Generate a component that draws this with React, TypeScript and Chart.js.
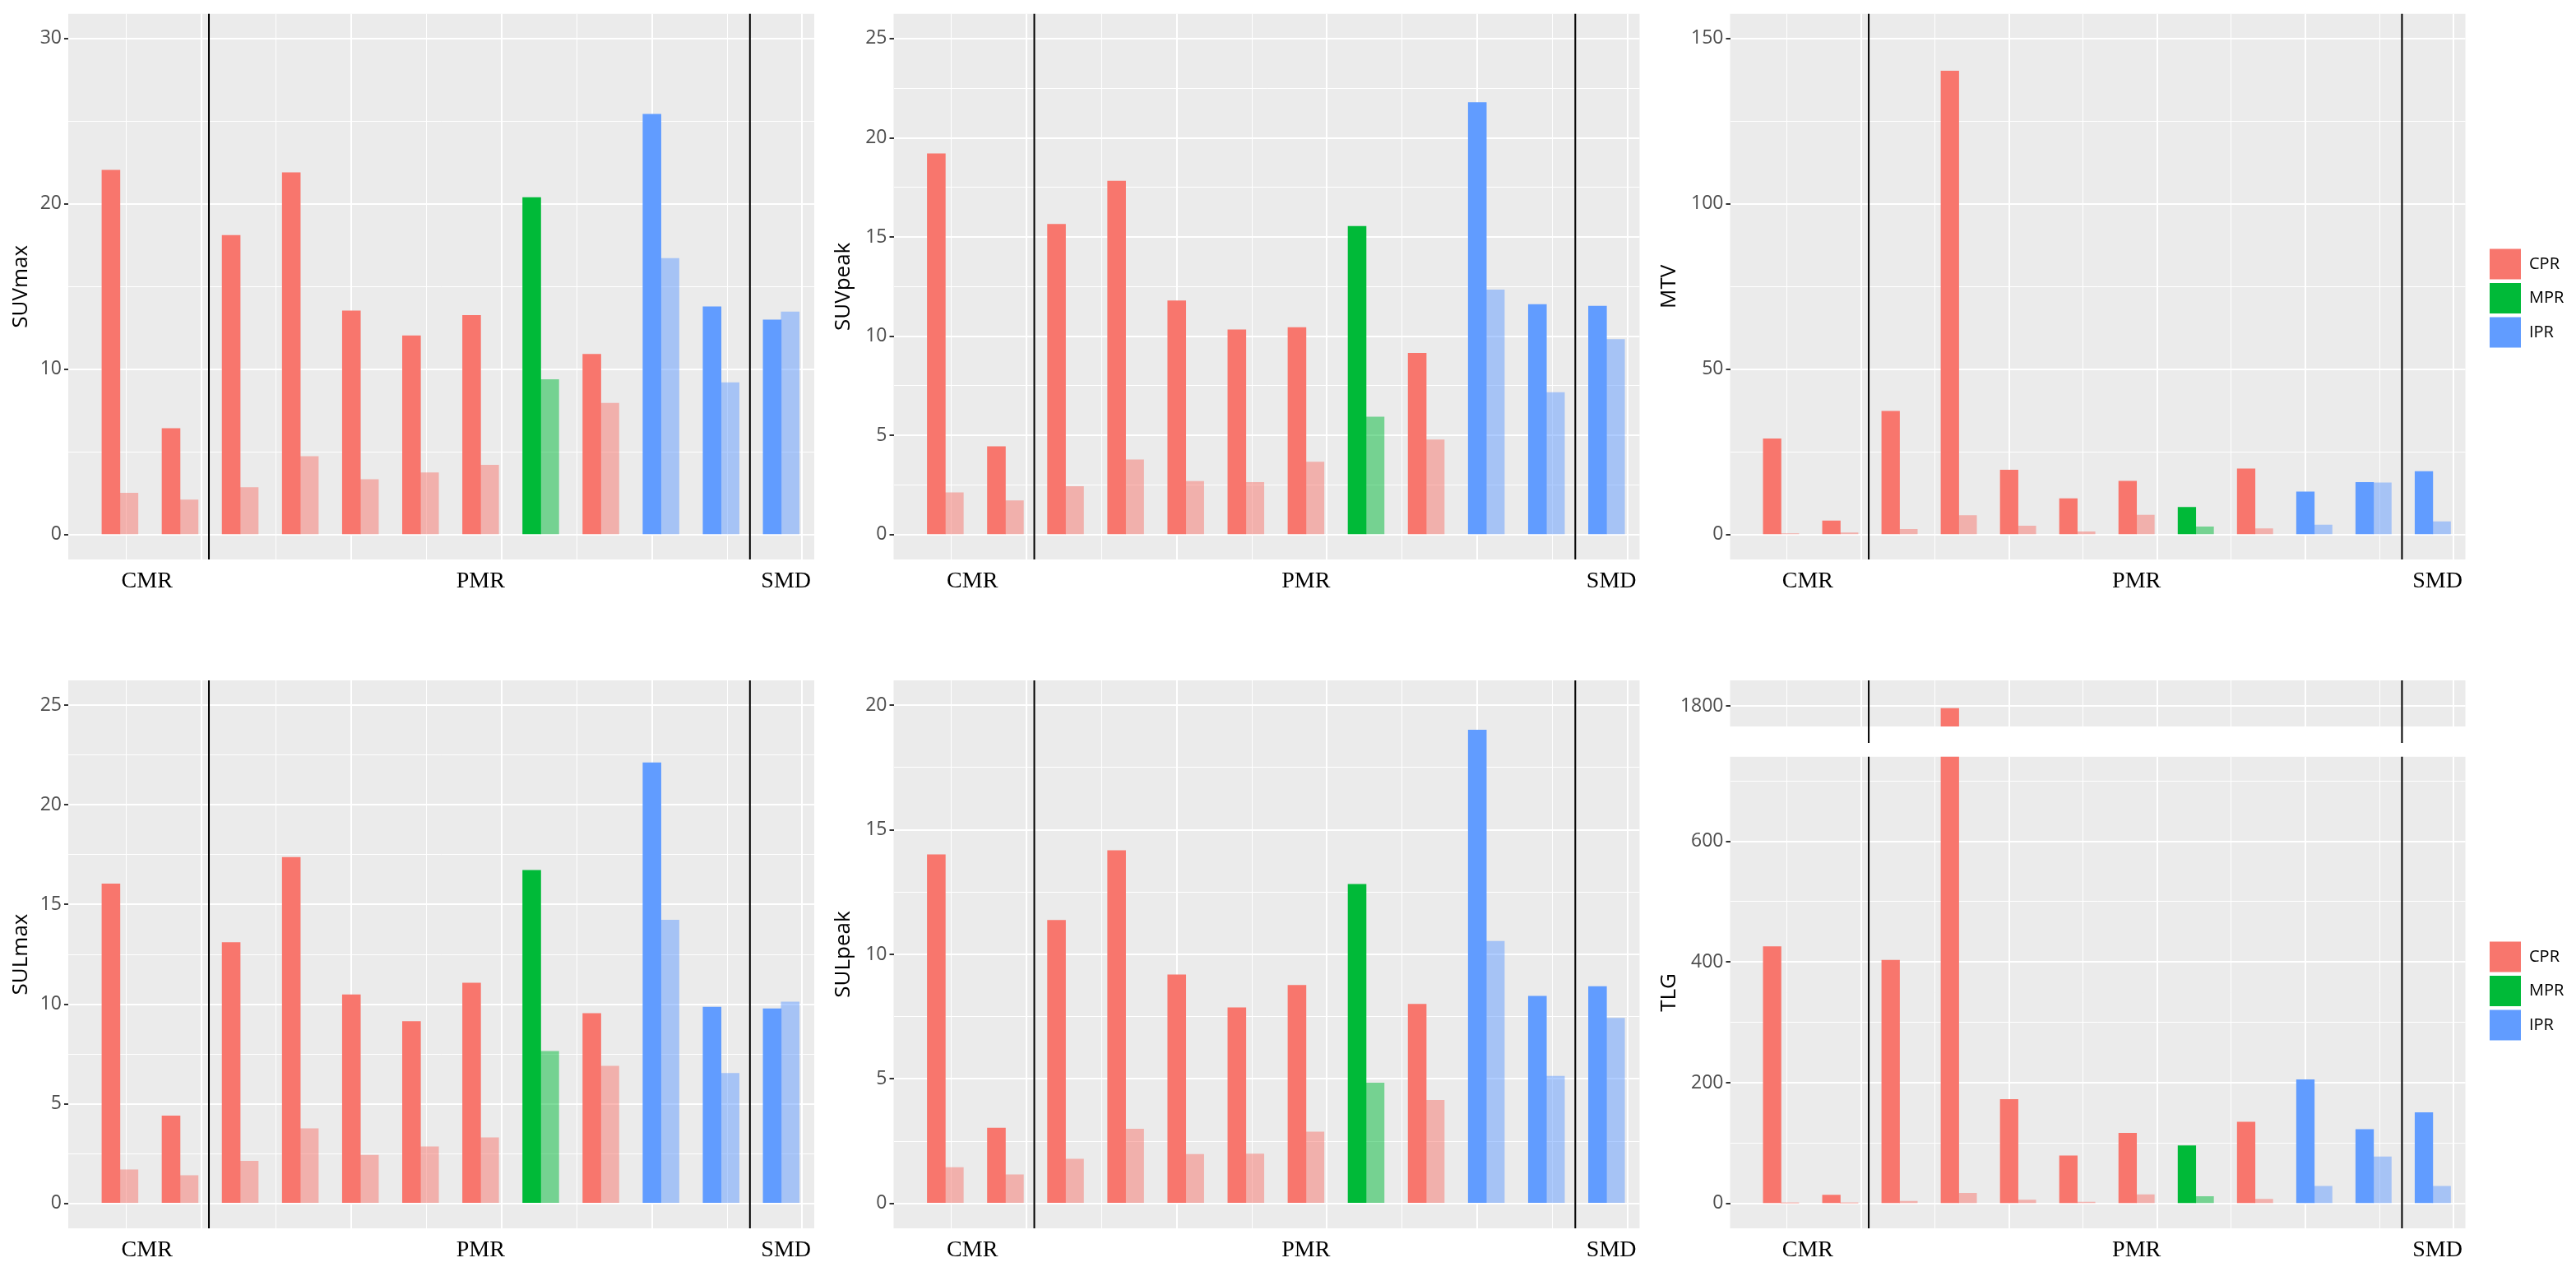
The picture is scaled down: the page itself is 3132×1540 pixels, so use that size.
import React, { useEffect, useRef } from "react";
import { Chart, registerables } from "chart.js";

Chart.register(...registerables);

const SANS = "'Open Sans', 'Noto Sans', sans-serif";
const SERIF = "'Liberation Serif', 'Times New Roman', serif";
Chart.defaults.font.family = SANS;

// 12 patients in figure order: 2 CMR, 9 PMR, 1 SMD
const PATIENT_POS = [1, 2, 3, 4, 5, 6, 7, 8, 9, 10, 11, 12];
const RESPONSE = ["CPR", "CPR", "CPR", "CPR", "CPR", "CPR", "CPR", "MPR", "CPR", "IPR", "IPR", "IPR"];
const RESPONSE_LEVELS = ["CPR", "MPR", "IPR"];
const RESPONSE_COLORS: Record<string, string> = { CPR: "#F8766D", MPR: "#00BA38", IPR: "#619CFF" };
const RESPONSE_COLORS_POST: Record<string, string> = {
  CPR: "rgba(248,118,109,0.5)",
  MPR: "rgba(0,186,56,0.5)",
  IPR: "rgba(97,156,255,0.5)",
};

const GROUP_LABELS = ["CMR", "PMR", "SMD"];
const GROUP_LABEL_POS = [1.6, 7.15, 12.23];
const GROUP_SEPARATORS = [2.63, 11.63];
const X_MAJOR = [2.5, 5, 7.5, 10, 12.5];
const X_MINOR = [1.25, 3.75, 6.25, 8.75, 11.25];
const X_MIN = 0.29;
const X_MAX = 12.7;
const POST_OFFSET = 0.3;

// baseline (solid) and follow-up (light) values
const SUVMAX_BASE = [22.05, 6.42, 18.1, 21.9, 13.54, 12.03, 13.26, 20.39, 10.91, 25.43, 13.79, 12.99];
const SUVMAX_POST = [2.51, 2.1, 2.85, 4.73, 3.33, 3.74, 4.2, 9.38, 7.95, 16.71, 9.2, 13.47];
const SUVPEAK_BASE = [19.2, 4.44, 15.64, 17.82, 11.79, 10.33, 10.44, 15.54, 9.14, 21.78, 11.6, 11.52];
const SUVPEAK_POST = [2.12, 1.71, 2.43, 3.77, 2.69, 2.63, 3.66, 5.93, 4.78, 12.34, 7.16, 9.84];
const MTV_BASE = [29.0, 4.2, 37.3, 140.2, 19.56, 10.9, 16.15, 8.3, 19.9, 12.96, 15.8, 19.1];
const MTV_POST = [0.34, 0.57, 1.6, 5.8, 2.6, 0.9, 5.9, 2.4, 1.8, 2.96, 15.7, 3.9];
const SULMAX_BASE = [16.04, 4.39, 13.1, 17.37, 10.47, 9.13, 11.06, 16.72, 9.53, 22.12, 9.85, 9.77];
const SULMAX_POST = [1.69, 1.4, 2.12, 3.75, 2.42, 2.84, 3.3, 7.63, 6.89, 14.22, 6.53, 10.11];
const SULPEAK_BASE = [14.0, 3.03, 11.37, 14.17, 9.18, 7.86, 8.76, 12.81, 8.0, 19.01, 8.32, 8.71];
const SULPEAK_POST = [1.44, 1.15, 1.78, 2.99, 1.97, 1.99, 2.87, 4.84, 4.14, 10.53, 5.11, 7.44];
const TLG_BASE = [425.6, 14, 403, 1796, 172.6, 79, 116.5, 95.7, 135, 205, 122.6, 150.6];
const TLG_POST = [0.5, 0.5, 3.7, 17, 6, 2.4, 14.6, 11.6, 7.3, 28.7, 77.4, 28.7];

// y ticks
const SUVMAX_TICKS = [0, 10, 20, 30];
const SUVMAX_MINOR = [5, 15, 25];
const SUV25_TICKS = [0, 5, 10, 15, 20, 25];
const SUV25_MINOR = [2.5, 7.5, 12.5, 17.5, 22.5];
const MTV_TICKS = [0, 50, 100, 150];
const MTV_MINOR = [25, 75, 125];
const SULPEAK_TICKS = [0, 5, 10, 15, 20];
const SULPEAK_MINOR = [2.5, 7.5, 12.5, 17.5];
const TLG_TICKS = [0, 200, 400, 600];
const TLG_MINOR = [100, 300, 500, 700];
const TLG_UPPER_TICKS = [1800];

const LEGEND_PAD = 4.5;
const LEGEND_BOX = 38;
const LEGEND_FONT = 20;
const LEGEND_GAP = 25;

const isIn = (arr: number[], v: number) => arr.some((m) => Math.abs(m - v) < 1e-6);

// natural width of the chart.js legend, so the plot area can be placed exactly
function legendWidth() {
  const ctx = document.createElement("canvas").getContext("2d") as CanvasRenderingContext2D;
  ctx.font = `${LEGEND_FONT}px ${SANS}`;
  const textW = Math.max(...RESPONSE_LEVELS.map((t) => ctx.measureText(t).width));
  return LEGEND_PAD + LEGEND_BOX + LEGEND_FONT / 2 + textW + 10;
}

const panelBg = {
  id: "panelBg",
  beforeDraw(chart: any) {
    const { ctx, chartArea: a } = chart;
    ctx.save();
    ctx.fillStyle = "#EBEBEB";
    ctx.fillRect(a.left, a.top, a.right - a.left, a.bottom - a.top);
    ctx.restore();
  },
};

const separators = {
  id: "separators",
  afterDatasetsDraw(chart: any, _args: any, opts: any) {
    const { ctx, chartArea } = chart;
    const xs = chart.scales.x;
    ctx.save();
    ctx.strokeStyle = "#000000";
    ctx.lineWidth = 2;
    for (const v of opts.values || []) {
      const px = xs.getPixelForValue(v);
      ctx.beginPath();
      ctx.moveTo(px, chartArea.top);
      ctx.lineTo(px, opts.toBottom ? chart.height : chartArea.bottom);
      ctx.stroke();
    }
    ctx.restore();
  },
};

type PanelProps = {
  title?: string;
  base: number[];
  post: number[];
  yMin: number;
  yMax: number;
  major: number[];
  minor: number[];
  left: number;
  top: number;
  width: number;
  height: number;
  area: { left: number; top: number; bottom: number; right: number };
  titleX?: number;
  legendTop?: number;
  showLabels?: boolean;
  sepToBottom?: boolean;
};

function buildConfig(p: PanelProps): any {
  const hasLegend = p.legendTop !== undefined;
  const scales: any = {
    x: {
      type: "linear",
      position: "bottom",
      min: X_MIN,
      max: X_MAX,
      offset: false,
      afterBuildTicks: (s: any) => {
        s.ticks = [...X_MINOR, ...X_MAJOR].sort((a, b) => a - b).map((v) => ({ value: v }));
      },
      ticks: { display: false },
      grid: {
        offset: false,
        color: "#FFFFFF",
        lineWidth: (c: any) => (isIn(X_MAJOR, c.tick ? c.tick.value : NaN) ? 2 : 1),
        drawTicks: false,
      },
      border: { display: false },
      afterFit: (s: any) => {
        s.height = 0;
      },
    },
    y: {
      type: "linear",
      min: p.yMin,
      max: p.yMax,
      afterBuildTicks: (s: any) => {
        s.ticks = [...p.minor, ...p.major].sort((a, b) => a - b).map((v) => ({ value: v }));
      },
      ticks: {
        callback: (v: number) => (isIn(p.major, v) ? String(v) : ""),
        color: "#4D4D4D",
        font: { size: 23, family: SANS },
        padding: 3,
        autoSkip: false,
      },
      grid: {
        color: "#FFFFFF",
        lineWidth: (c: any) => (isIn(p.major, c.tick ? c.tick.value : NaN) ? 2 : 1),
        tickColor: (c: any) => (isIn(p.major, c.tick ? c.tick.value : NaN) ? "#333333" : "rgba(0,0,0,0)"),
        tickLength: 5,
        tickWidth: 2,
      },
      border: { display: false },
      title: p.title
        ? {
            display: true,
            text: p.title,
            color: "#000000",
            font: { size: 26, family: SANS },
            padding: { top: (p.titleX ?? 26) - 15.6, bottom: 0 },
          }
        : { display: false },
      afterFit: (s: any) => {
        s.width = p.area.left;
      },
    },
  };
  if (p.showLabels) {
    scales.x2 = {
      type: "linear",
      position: "bottom",
      min: X_MIN,
      max: X_MAX,
      offset: false,
      afterBuildTicks: (s: any) => {
        s.ticks = GROUP_LABEL_POS.map((v) => ({ value: v }));
      },
      ticks: {
        callback: (_v: number, i: number) => GROUP_LABELS[i],
        color: "#000000",
        font: { size: 28, family: SERIF },
        padding: 10,
        autoSkip: false,
        maxRotation: 0,
      },
      grid: { display: false, drawTicks: false },
      border: { display: false },
      afterFit: (s: any) => {
        s.height = p.height - p.area.bottom;
      },
    };
  }

  let rightPad = p.width - p.area.right;
  if (hasLegend) {
    scales.pad = {
      type: "linear",
      position: "right",
      grid: { display: false, drawTicks: false },
      ticks: { display: false },
      border: { display: false },
      afterFit: (s: any) => {
        s.width = LEGEND_GAP;
      },
    };
    rightPad = Math.max(0, p.width - p.area.right - LEGEND_GAP - legendWidth());
  }

  const legend = hasLegend
    ? {
        display: true,
        position: "right",
        align: "start",
        fullSize: false,
        onClick: () => {},
        title: {
          display: true,
          text: "",
          font: { size: 10, lineHeight: 1 },
          padding: { top: (p.legendTop as number) - p.area.top - LEGEND_PAD - 10, bottom: 0 },
        },
        labels: {
          boxWidth: LEGEND_BOX,
          boxHeight: 37,
          padding: LEGEND_PAD,
          color: "#000000",
          font: { size: LEGEND_FONT, family: SANS },
          generateLabels: () =>
            RESPONSE_LEVELS.map((r) => ({
              text: r,
              fillStyle: RESPONSE_COLORS[r],
              strokeStyle: RESPONSE_COLORS[r],
              fontColor: "#000000",
              lineWidth: 0,
              hidden: false,
            })),
        },
      }
    : { display: false };

  return {
    type: "bar",
    data: {
      datasets: [
        {
          label: "baseline",
          data: PATIENT_POS.map((x, i) => ({ x, y: p.base[i] })),
          backgroundColor: RESPONSE.map((r) => RESPONSE_COLORS[r]),
          borderWidth: 0,
          grouped: false,
          categoryPercentage: 1,
          barPercentage: 1,
          clip: 0,
        },
        {
          label: "follow-up",
          data: PATIENT_POS.map((x, i) => ({ x: x + POST_OFFSET, y: p.post[i] })),
          backgroundColor: RESPONSE.map((r) => RESPONSE_COLORS_POST[r]),
          borderWidth: 0,
          grouped: false,
          categoryPercentage: 1,
          barPercentage: 1,
          clip: 0,
        },
      ],
    },
    options: {
      responsive: false,
      animation: false,
      devicePixelRatio: 1,
      layout: {
        padding: {
          left: 0,
          top: p.area.top,
          right: rightPad,
          bottom: p.showLabels ? 0 : p.height - p.area.bottom,
        },
      },
      scales,
      plugins: {
        legend,
        tooltip: { enabled: false },
        separators: { values: GROUP_SEPARATORS, toBottom: !!p.sepToBottom },
      },
    },
    plugins: [panelBg, separators],
  };
}

function BarPanel(props: PanelProps) {
  const ref = useRef<HTMLCanvasElement>(null);
  useEffect(() => {
    if (!ref.current) return;
    const chart = new Chart(ref.current, buildConfig(props));
    return () => chart.destroy();
  }, []);
  return (
    <canvas
      ref={ref}
      width={props.width}
      height={props.height}
      style={{ position: "absolute", left: props.left, top: props.top, width: props.width, height: props.height }}
    />
  );
}

export default function App() {
  useEffect(() => {
    document.body.style.margin = "0";
  }, []);
  return (
    <div style={{ position: "relative", width: 3132, height: 1540, background: "#FFFFFF", overflow: "hidden" }}>
      <BarPanel
        title="SUVmax" base={SUVMAX_BASE} post={SUVMAX_POST}
        yMin={-1.5} yMax={31.5} major={SUVMAX_TICKS} minor={SUVMAX_MINOR}
        left={0} top={0} width={1000} height={727}
        area={{ left: 83, top: 15, bottom: 680, right: 990 }} showLabels
      />
      <BarPanel
        title="SUVpeak" base={SUVPEAK_BASE} post={SUVPEAK_POST}
        yMin={-1.25} yMax={26.25} major={SUV25_TICKS} minor={SUV25_MINOR}
        left={1000} top={0} width={1000} height={727}
        area={{ left: 86.5, top: 15, bottom: 680, right: 993.5 }} showLabels
      />
      <BarPanel
        title="MTV" base={MTV_BASE} post={MTV_POST}
        yMin={-7.5} yMax={157.5} major={MTV_TICKS} minor={MTV_MINOR}
        left={2000} top={0} width={1132} height={727}
        area={{ left: 103.5, top: 15, bottom: 680, right: 997.5 }} titleX={30}
        legendTop={300.7} showLabels
      />
      <BarPanel
        title="SULmax" base={SULMAX_BASE} post={SULMAX_POST}
        yMin={-1.25} yMax={26.25} major={SUV25_TICKS} minor={SUV25_MINOR}
        left={0} top={800} width={1000} height={740}
        area={{ left: 83, top: 27, bottom: 693, right: 990 }} showLabels
      />
      <BarPanel
        title="SULpeak" base={SULPEAK_BASE} post={SULPEAK_POST}
        yMin={-1} yMax={21} major={SULPEAK_TICKS} minor={SULPEAK_MINOR}
        left={1000} top={800} width={1000} height={740}
        area={{ left: 86.5, top: 27, bottom: 693, right: 993.5 }} showLabels
      />
      <BarPanel
        base={TLG_BASE} post={TLG_POST}
        yMin={1767} yMax={1841} major={TLG_UPPER_TICKS} minor={[]}
        left={2000} top={800} width={1132} height={103}
        area={{ left: 103.5, top: 27, bottom: 83, right: 997.5 }} sepToBottom
      />
      <BarPanel
        title="TLG" base={TLG_BASE} post={TLG_POST}
        yMin={-41} yMax={740} major={TLG_TICKS} minor={TLG_MINOR}
        left={2000} top={903} width={1132} height={637}
        area={{ left: 103.5, top: 0, bottom: 590, right: 997.5 }} titleX={30}
        legendTop={224.6} showLabels
      />
    </div>
  );
}
